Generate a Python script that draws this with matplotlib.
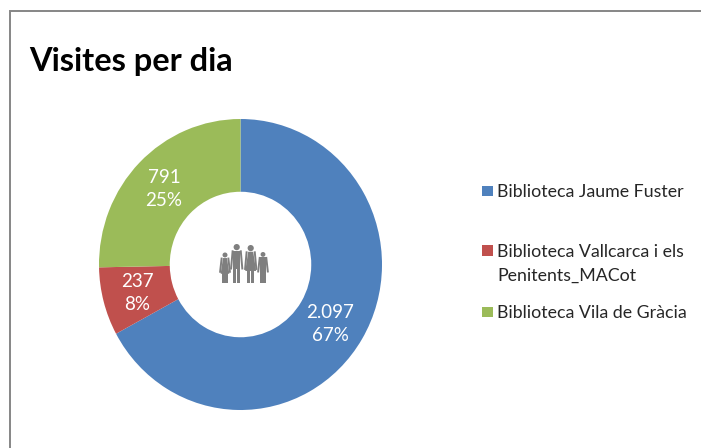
import matplotlib
matplotlib.use("Agg")
import matplotlib.pyplot as plt
from matplotlib.patches import Circle, Polygon, Rectangle

FONT = "Lato"
W, H = 701, 448

# chart data
libraries = ["Biblioteca Jaume Fuster", "Biblioteca Vallcarca i els\nPenitents_MACot", "Biblioteca Vila de Gràcia"]
visits = [2097, 237, 791]
visit_labels = ["2.097", "237", "791"]
share_labels = ["67%", "8%", "25%"]
colors = ["#4F81BD", "#C0504D", "#9BBB59"]

fig = plt.figure(figsize=(W / 100, H / 100), dpi=100)
ax = fig.add_axes([0, 0, 1, 1])
ax.set_xlim(0, W)
ax.set_ylim(H, 0)
ax.axis("off")
ax.set_zorder(10)


def person(x, top, bottom=283, scale=1.0, skirt=False):
    # pictogram figure standing on y=bottom
    col = "#7F7F7F"
    r = 3.1 * scale
    ax.add_patch(Circle((x, top + r), r, color=col, lw=0))
    s = top + 2 * r + 0.6
    h = bottom - s
    w = 3.6 * scale
    hip = s + h * .55
    if skirt:
        ax.add_patch(Polygon([(x - w * .7, s), (x + w * .7, s), (x + w * 1.5, hip + 2),
                              (x - w * 1.5, hip + 2)], color=col, lw=0))
    else:
        ax.add_patch(Rectangle((x - w, s), 2 * w, h * .55, color=col, lw=0))
    leg_w = 2.9 * scale
    ax.add_patch(Rectangle((x - 3.3 * scale, hip - 1), leg_w, bottom - hip + 1, color=col, lw=0))
    ax.add_patch(Rectangle((x + 3.3 * scale - leg_w, hip - 1), leg_w, bottom - hip + 1, color=col, lw=0))
    ax.plot([x - w - .5, x - w - 2], [s + .5, hip], color=col, lw=1.4)
    ax.plot([x + w + .5, x + w + 2], [s + .5, hip], color=col, lw=1.4)


# ax is flipped in y, so the pie has to go in its own axes; the ring is slightly taller than wide
pie_ax = fig.add_axes([99 / W, 1 - 410 / H, 283 / W, 291 / H])
pie_ax.pie(visits, colors=colors, startangle=90, counterclock=False, radius=1.0,
           wedgeprops=dict(width=0.5, lw=0))
pie_ax.set_aspect("auto")
pie_ax.set_xlim(-1, 1)
pie_ax.set_ylim(-1, 1)
pie_ax.axis("off")

# frame
ax.plot([W, 9.5, 9.5], [11.5, 11.5, H], color="#868686", lw=1.4, solid_joinstyle="miter")

ax.text(29, 61, "Visites per dia", family=FONT, weight="bold", fontsize=23.4, color="black", va="center", ha="left")

label_pos = [(330, 324), (137, 293), (164, 189)]
for (x, y), v, s in zip(label_pos, visit_labels, share_labels):
    ax.text(x, y, v + "\n" + s, family=FONT, fontsize=13.5, color="white", ha="center", va="center",
            linespacing=1.36, zorder=5)

legend_y = [192, 264, 313]
for y, name, c in zip(legend_y, libraries, colors):
    first_y = y if "\n" not in name else y - 12.5
    ax.add_patch(Rectangle((482, first_y - 6), 10.5, 10.5, color=c, lw=0))
    ax.text(497, y, name, family=FONT, fontsize=12.75, color="#262626", va="center", ha="left", linespacing=1.6)

person(225, 252.5, scale=0.8, skirt=True)
person(236.7, 244, scale=1.0)
person(250.7, 245, scale=1.0, skirt=True)
person(263, 252, scale=0.78)

fig.savefig("out.png", dpi=100)
